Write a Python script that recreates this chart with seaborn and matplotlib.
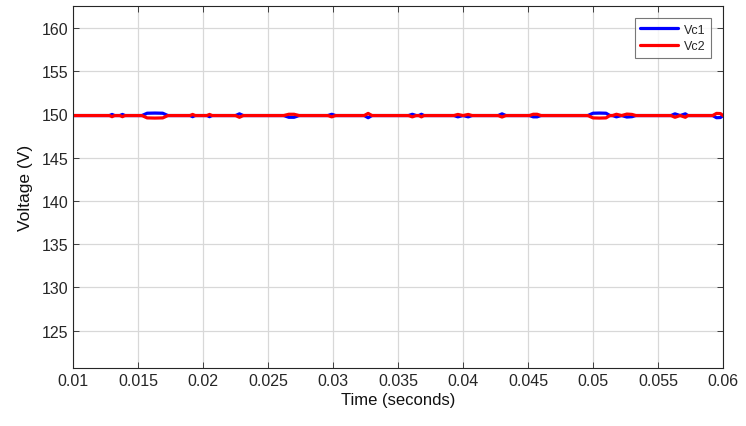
import numpy as np
import pandas as pd
import matplotlib
matplotlib.use('Agg')
import matplotlib.pyplot as plt
import seaborn as sns

# time samples (s), shared by both capacitor voltages
t = [0.0100, 0.0128, 0.0130, 0.0132, 0.0136, 0.0138, 0.0140,
     0.0153, 0.0157, 0.0163, 0.0169, 0.0173,
     0.0190, 0.0192, 0.0194, 0.0203, 0.0205, 0.0207,
     0.0225, 0.0228, 0.0231,
     0.0262, 0.0266, 0.0270, 0.0274,
     0.0296, 0.0299, 0.0302,
     0.0324, 0.0327, 0.0330,
     0.0358, 0.0361, 0.0364, 0.0366, 0.0368, 0.0370,
     0.0393, 0.0396, 0.0400, 0.0404, 0.0407,
     0.0427, 0.0430, 0.0433,
     0.0451, 0.0454, 0.0457, 0.0460,
     0.0496, 0.0500, 0.0505, 0.0510, 0.0513,
     0.0515, 0.0518, 0.0522, 0.0526, 0.0530, 0.0533,
     0.0560, 0.0563, 0.0567, 0.0571, 0.0573,
     0.0592, 0.0595, 0.0598, 0.0600]

vc1 = [149.85, 149.85, 149.98, 149.85, 149.85, 149.98, 149.85,
       149.85, 150.12, 150.14, 150.12, 149.85,
       149.85, 149.72, 149.85, 149.85, 149.72, 149.85,
       149.85, 150.05, 149.85,
       149.85, 149.65, 149.65, 149.85,
       149.85, 150.00, 149.85,
       149.85, 149.60, 149.85,
       149.85, 150.00, 149.85, 149.85, 150.00, 149.85,
       149.85, 149.70, 149.85, 149.70, 149.85,
       149.85, 150.05, 149.85,
       149.85, 149.70, 149.70, 149.85,
       149.85, 150.12, 150.14, 150.12, 149.85,
       149.85, 149.70, 149.85, 149.68, 149.72, 149.85,
       149.85, 150.05, 149.85, 150.05, 149.85,
       149.85, 149.60, 149.62, 149.85]

vc2 = [149.85, 149.85, 149.72, 149.85, 149.85, 149.72, 149.85,
       149.85, 149.58, 149.56, 149.58, 149.85,
       149.85, 149.98, 149.85, 149.85, 149.98, 149.85,
       149.85, 149.65, 149.85,
       149.85, 150.00, 150.00, 149.85,
       149.85, 149.70, 149.85,
       149.85, 150.10, 149.85,
       149.85, 149.70, 149.85, 149.85, 149.70, 149.85,
       149.85, 149.98, 149.85, 149.98, 149.85,
       149.85, 149.68, 149.85,
       149.85, 150.00, 150.00, 149.85,
       149.85, 149.58, 149.56, 149.58, 149.85,
       149.85, 150.00, 149.85, 150.02, 149.98, 149.85,
       149.85, 149.65, 149.85, 149.65, 149.85,
       149.85, 150.10, 150.08, 149.85]

xticks = [0.01, 0.015, 0.02, 0.025, 0.03, 0.035, 0.04, 0.045, 0.05, 0.055, 0.06]
xtick_labels = ['0.01', '0.015', '0.02', '0.025', '0.03', '0.035', '0.04',
                '0.045', '0.05', '0.055', '0.06']
yticks = [125, 130, 135, 140, 145, 150, 155, 160]

df = pd.DataFrame({'Time': t * 2,
                   'Voltage': vc1 + vc2,
                   'Signal': ['Vc1'] * len(t) + ['Vc2'] * len(t)})

sns.set_style('white')
plt.rcParams['font.family'] = ['Liberation Sans', 'DejaVu Sans']

fig = plt.figure(figsize=(7.46, 4.27), dpi=100)
ax = fig.add_axes([0.0979, 0.1358, 0.8713, 0.8478])

sns.lineplot(data=df, x='Time', y='Voltage', hue='Signal',
             palette={'Vc1': '#0000ff', 'Vc2': '#ff0000'},
             linewidth=2.3, sort=False, ax=ax)

ax.set_xlim(0.01, 0.06)
ax.set_ylim(120.7, 162.5)
ax.set_xticks(xticks)
ax.set_xticklabels(xtick_labels)
ax.set_yticks(yticks)
ax.grid(True, color='#d8d8d8', linewidth=0.9)
ax.tick_params(direction='in', length=4, width=0.6, color='#262626',
               labelsize=11.5, labelcolor='#262626',
               top=True, right=True, left=True, bottom=True)
for s in ax.spines.values():
    s.set_color('#262626')
    s.set_linewidth(0.8)

ax.set_xlabel('Time (seconds)', fontsize=12, color='#111111', labelpad=3)
ax.set_ylabel('Voltage (V)', fontsize=12.5, color='#111111', labelpad=6)

leg = ax.legend(loc='upper right', fontsize=9, frameon=True, fancybox=False,
                handlelength=3.0, borderaxespad=0.95, borderpad=0.45,
                labelspacing=0.35, handletextpad=0.5)
leg.get_frame().set_edgecolor('#555555')
leg.get_frame().set_linewidth(0.8)
leg.set_title(None)

fig.savefig('out.png', dpi=100)
